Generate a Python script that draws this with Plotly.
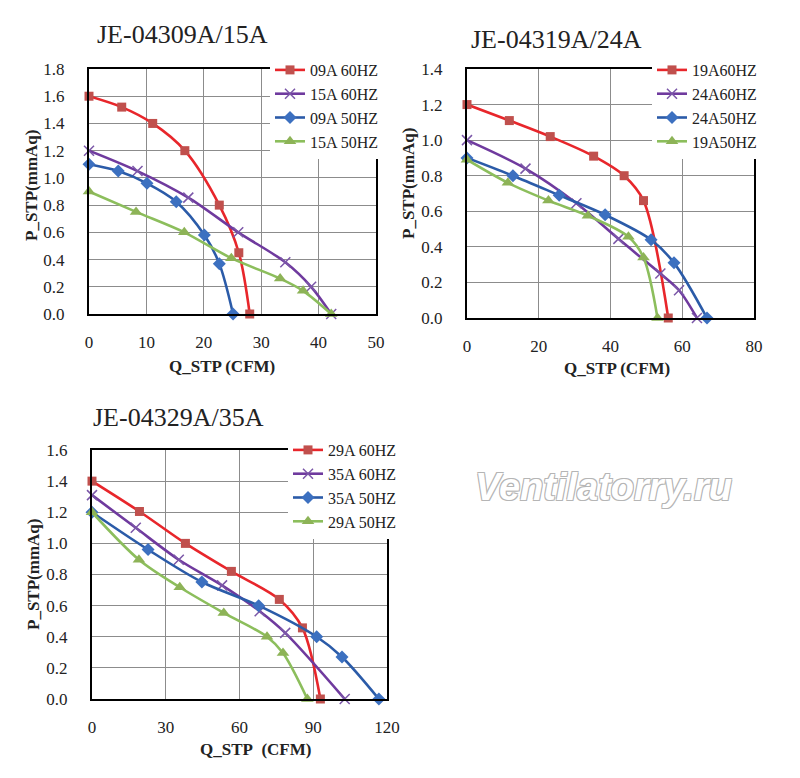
import plotly.graph_objects as go

# JE-04309A/15A  (Q_STP in CFM, P_STP in mmAq)
q_09a_60hz = [0, 5.7, 11.1, 16.7, 22.7, 26.1, 28.0]
p_09a_60hz = [1.60, 1.52, 1.40, 1.20, 0.80, 0.45, 0.0]
q_15a_60hz = [0, 8.45, 17.3, 26.0, 34.2, 38.7, 42.2]
p_15a_60hz = [1.20, 1.05, 0.855, 0.60, 0.38, 0.20, 0.0]
q_09a_50hz = [0, 5.1, 10.1, 15.2, 20.1, 22.7, 25.1]
p_09a_50hz = [1.10, 1.05, 0.96, 0.825, 0.58, 0.37, 0.0]
q_15a_50hz = [0, 8.2, 16.6, 24.8, 33.3, 37.3, 42.2]
p_15a_50hz = [0.90, 0.75, 0.60, 0.41, 0.26, 0.17, 0.0]

# JE-04319A/24A
q_19a_60hz = [0, 11.8, 23.2, 35.3, 43.8, 49.2, 56.1]
p_19a_60hz = [1.20, 1.11, 1.02, 0.91, 0.80, 0.66, 0.0]
q_24a_60hz = [0, 16.3, 30.5, 42.2, 53.9, 59.1, 64.1]
p_24a_60hz = [1.00, 0.84, 0.645, 0.445, 0.25, 0.156, 0.0]
q_24a_50hz = [0, 12.8, 25.7, 38.5, 51.3, 57.7, 66.9]
p_24a_50hz = [0.90, 0.80, 0.69, 0.58, 0.44, 0.31, 0.0]
q_19a_50hz = [0, 11.4, 22.7, 33.7, 45.0, 49.2, 53.1]
p_19a_50hz = [0.89, 0.76, 0.66, 0.575, 0.457, 0.34, 0.0]

# JE-04329A/35A
q_29a_60hz = [0, 19.3, 38.0, 56.7, 76.2, 85.6, 92.9]
p_29a_60hz = [1.40, 1.205, 1.00, 0.82, 0.64, 0.457, 0.0]
q_35a_60hz = [0, 17.8, 35.3, 52.9, 68.2, 78.6, 102.8]
p_35a_60hz = [1.31, 1.10, 0.895, 0.73, 0.564, 0.425, 0.0]
q_35a_50hz = [0, 22.8, 44.7, 67.8, 91.4, 101.7, 116.7]
p_35a_50hz = [1.20, 0.96, 0.752, 0.60, 0.40, 0.27, 0.0]
q_29a_50hz = [0, 19.1, 35.7, 53.6, 71.2, 77.7, 87.6]
p_29a_50hz = [1.20, 0.895, 0.718, 0.553, 0.40, 0.295, 0.0]

# line colour, marker colour, marker symbol, marker size
styles = {
    "red": ("#E8262B", "#C0504D", "square", 9),
    "purple": ("#6F3A9E", "#7B57A8", "x-thin", 10),
    "blue": ("#2B5BA8", "#3C70C0", "diamond", 10),
    "green": ("#8CBE5C", "#8DB357", "triangle-up", 11),
}

SERIF = "Liberation Serif, Times New Roman, serif"

fig = go.Figure()


def add_curve(q, p, name, style, n):
    line_col, mark_col, symbol, size = styles[style]
    sfx = "" if n == 1 else str(n)
    fig.add_trace(go.Scatter(
        x=q, y=p, name=name, mode="lines+markers",
        line=dict(color=line_col, width=2.6, shape="spline", smoothing=0.9),
        marker=dict(color=mark_col, symbol=symbol, size=size,
                    line=dict(color=mark_col, width=1.5 if symbol == "x-thin" else 0)),
        xaxis="x" + sfx, yaxis="y" + sfx, legend="legend" + sfx,
        cliponaxis=False,
    ))


add_curve(q_09a_60hz, p_09a_60hz, "09A 60HZ", "red", 1)
add_curve(q_15a_60hz, p_15a_60hz, "15A 60HZ", "purple", 1)
add_curve(q_09a_50hz, p_09a_50hz, "09A 50HZ", "blue", 1)
add_curve(q_15a_50hz, p_15a_50hz, "15A 50HZ", "green", 1)

add_curve(q_19a_60hz, p_19a_60hz, "19A60HZ", "red", 2)
add_curve(q_24a_60hz, p_24a_60hz, "24A60HZ", "purple", 2)
add_curve(q_24a_50hz, p_24a_50hz, "24A50HZ", "blue", 2)
add_curve(q_19a_50hz, p_19a_50hz, "19A50HZ", "green", 2)

add_curve(q_29a_60hz, p_29a_60hz, "29A 60HZ", "red", 3)
add_curve(q_35a_60hz, p_35a_60hz, "35A 60HZ", "purple", 3)
add_curve(q_35a_50hz, p_35a_50hz, "35A 50HZ", "blue", 3)
add_curve(q_29a_50hz, p_29a_50hz, "29A 50HZ", "green", 3)

W, H = 800, 778
OFF = 8  # page body margin in the browser


def px(x):
    return (x - OFF) / W


def py(y):
    return 1 - (y - OFF) / H


def ax(x0, x1, y0, y1, rng, dt, anchor, xaxis):
    d = dict(range=rng, dtick=dt, anchor=anchor, automargin=False,
             showgrid=True, gridcolor="#8c8c8c", gridwidth=1,
             showline=True, mirror=True, linecolor="black", linewidth=2,
             zeroline=False, ticks="", fixedrange=True,
             tickfont=dict(family=SERIF, size=17, color="#222"),
             ticklabelstandoff=12 if xaxis else 19)
    if xaxis:
        d["domain"] = [px(x0), px(x1)]
    else:
        d["domain"] = [py(y1), py(y0)]
        d["tickformat"] = ".1f"
    return d


def leg(x, y, size):
    return dict(x=px(x), y=py(y), xanchor="left", yanchor="top",
                bgcolor="white", borderwidth=0, tracegroupgap=0,
                font=dict(family=SERIF, size=size, color="#222"))


fig.update_layout(
    width=W, height=H, margin=dict(l=0, r=0, t=0, b=0),
    paper_bgcolor="white", plot_bgcolor="white",
    xaxis=ax(89, 376, 69, 314, [0, 50], 10, "y", True),
    yaxis=ax(89, 376, 69, 314, [0, 1.8], 0.2, "x", False),
    xaxis2=ax(467, 754, 69, 318, [0, 80], 20, "y2", True),
    yaxis2=ax(467, 754, 69, 318, [0, 1.4], 0.2, "x2", False),
    xaxis3=ax(92, 387, 450, 699, [0, 120], 30, "y3", True),
    yaxis3=ax(92, 387, 450, 699, [0, 1.6], 0.2, "x3", False),
    legend=leg(270, 53, 16),
    legend2=leg(652, 53, 16),
    legend3=leg(288, 433, 16),
)


def note(text, x, y, size, bold=False, angle=0):
    fig.add_annotation(text="<b>" + text + "</b>" if bold else text,
                       x=px(x), y=py(y), xref="paper", yref="paper",
                       xanchor="center", yanchor="middle",
                       showarrow=False, textangle=angle,
                       font=dict(family=SERIF, size=size, color="#222"))


note("JE-04309A/15A", 182, 35, 26)
note("JE-04319A/24A", 556, 40, 26)
note("JE-04329A/35A", 178, 417, 26)

note("P_STP(mmAq)", 31, 186, 17, True, -90)
note("P_STP(mmAq)", 408, 184, 17, True, -90)
note("P_STP(mmAq)", 33, 575, 17, True, -90)

note("Q_STP (CFM)", 222, 366, 17, True)
note("Q_STP (CFM)", 617, 368, 17, True)
note("Q_STP&nbsp;&nbsp;(CFM)", 255, 749, 17, True)

# watermark
fig.add_annotation(text="<b><i>Ventilatorry.ru</i></b>", x=px(603), y=py(487),
                   xref="paper", yref="paper", xanchor="center", yanchor="middle",
                   showarrow=False,
                   font=dict(family="Liberation Sans, Arial, sans-serif", size=38,
                             color="white",
                             shadow="1px 1px 0 #b5b5b5, -1px -1px 0 #b5b5b5, "
                                    "1px -1px 0 #b5b5b5, -1px 1px 0 #b5b5b5"))

fig.write_html("out.html")
